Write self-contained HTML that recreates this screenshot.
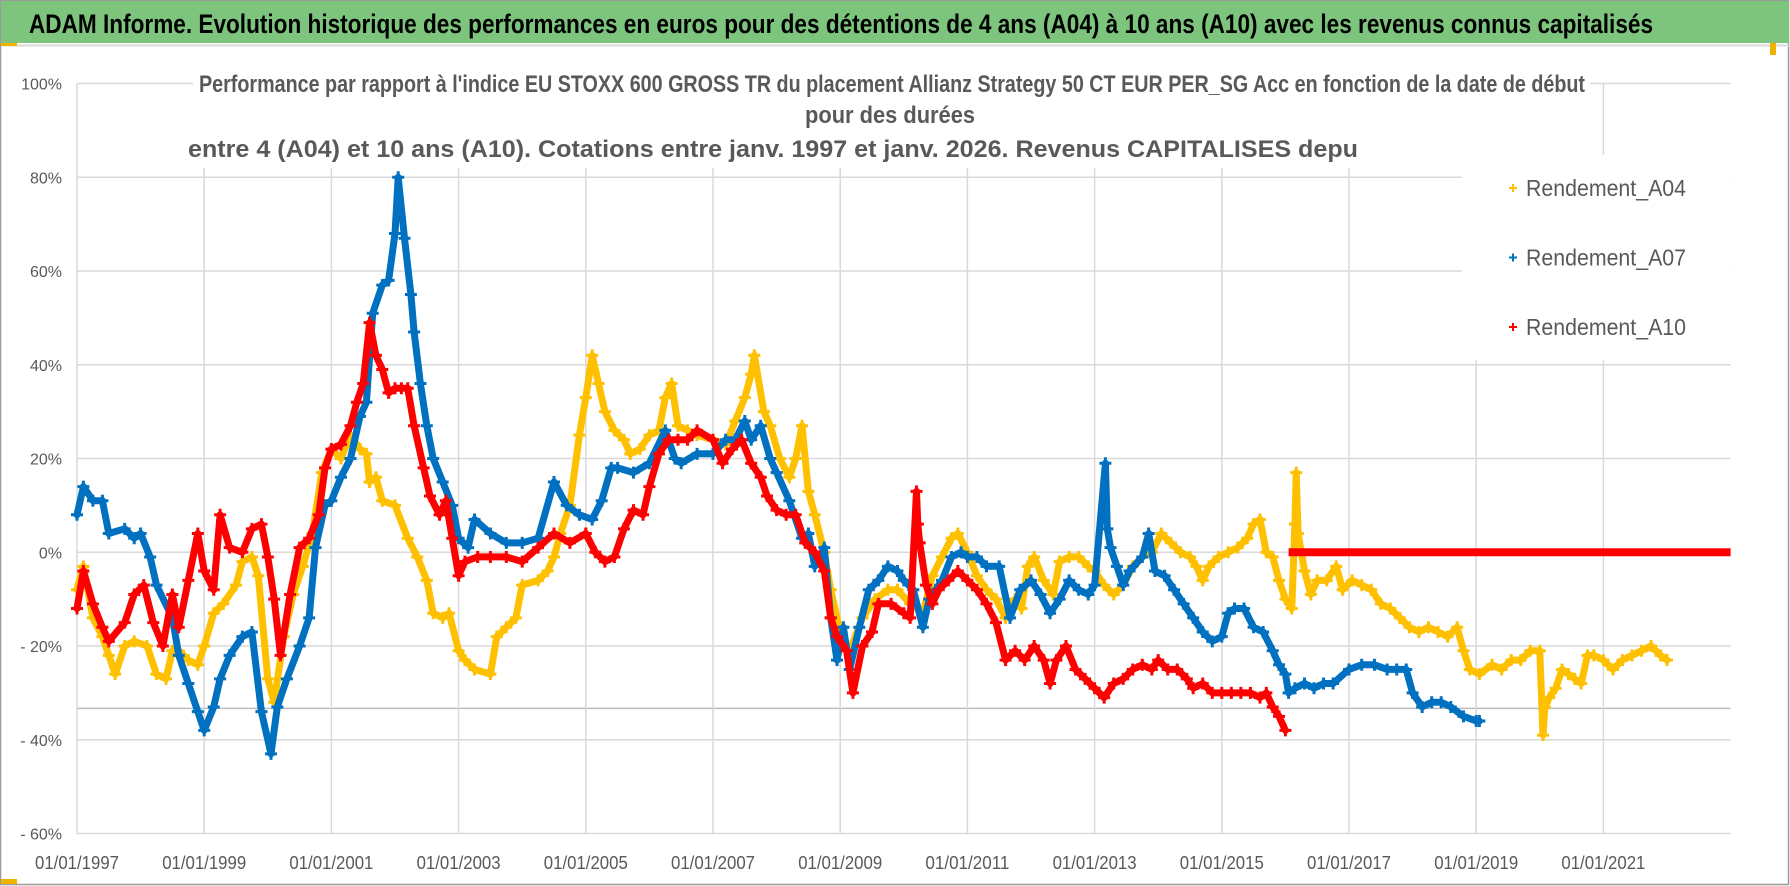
<!DOCTYPE html>
<html><head><meta charset="utf-8">
<style>
html,body{margin:0;padding:0;background:#fff;}
svg{display:block;font-family:"Liberation Sans",sans-serif;}
</style></head>
<body>
<svg id="chart" width="1790" height="886" viewBox="0 0 1790 886" xmlns="http://www.w3.org/2000/svg">
  <rect x="0" y="0" width="1790" height="886" fill="#fff"/>
  <rect x="0.5" y="0.5" width="1788" height="884" fill="none" stroke="#9a9a9a" stroke-width="1.5"/>
  <rect x="1" y="1" width="1788" height="42" fill="#7dc57d"/>
  <line x1="1" y1="45.5" x2="1789" y2="45.5" stroke="#d8d8d8" stroke-width="2"/>
  <rect x="1" y="43" width="16" height="3" fill="#f0b400"/>
  <rect x="1" y="879" width="16" height="5" fill="#f0b400"/>
  <rect x="1770" y="43" width="6" height="12" fill="#f0b400"/>
  <text x="29" y="33" font-size="27" font-weight="bold" fill="#000" textLength="1624" lengthAdjust="spacingAndGlyphs">ADAM Informe. Evolution historique des performances en euros pour des détentions de 4 ans (A04) à 10 ans (A10) avec les revenus connus capitalisés</text>
  <g id="grid"></g>
  <g id="series"></g>
  <rect x="193" y="68" width="1397" height="100" fill="#fff"/>
  <text x="199" y="92" font-size="24" font-weight="bold" fill="#595959" textLength="1386" lengthAdjust="spacingAndGlyphs">Performance par rapport à l'indice EU STOXX 600 GROSS TR  du placement Allianz Strategy 50 CT EUR PER_SG Acc en fonction de la date de début</text>
  <text x="890" y="123" font-size="24" font-weight="bold" fill="#595959" text-anchor="middle" textLength="170" lengthAdjust="spacingAndGlyphs">pour des durées</text>
  <text x="188" y="157" font-size="24" font-weight="bold" fill="#595959" textLength="1170" lengthAdjust="spacingAndGlyphs">entre 4 (A04) et 10 ans (A10).  Cotations entre janv. 1997 et janv. 2026. Revenus CAPITALISES depu</text>
  <rect x="1462" y="155" width="268" height="205" fill="#fff"/>
  <g id="legend"></g>
  <g id="axes"></g>
</svg>
<script>
const yTicks=[100,80,60,40,20,0,-20,-40,-60];
const yTickLabels=["100%","80%","60%","40%","20%","0%","- 20%","- 40%","- 60%"];
const xTickYears=[1997,1999,2001,2003,2005,2007,2009,2011,2013,2015,2017,2019,2021];
const xTickLabels=["01/01/1997","01/01/1999","01/01/2001","01/01/2003","01/01/2005","01/01/2007","01/01/2009","01/01/2011","01/01/2013","01/01/2015","01/01/2017","01/01/2019","01/01/2021"];
const refLineValue=-33.3;

const a04Years=[1997.0,1997.1,1997.25,1997.4,1997.5,1997.6,1997.75,1997.9,1998.1,1998.25,1998.4,1998.5,1998.6,1998.75,1998.9,1999.0,1999.15,1999.3,1999.5,1999.6,1999.75,1999.85,2000.0,2000.1,2000.25,2000.4,2000.55,2000.7,2000.85,2001.0,2001.15,2001.3,2001.45,2001.55,2001.6,2001.7,2001.8,2002.0,2002.2,2002.35,2002.5,2002.6,2002.75,2002.85,2003.0,2003.1,2003.25,2003.5,2003.6,2003.75,2003.9,2004.0,2004.25,2004.4,2004.5,2004.6,2004.75,2004.9,2005.0,2005.1,2005.2,2005.3,2005.45,2005.6,2005.7,2005.85,2006.0,2006.15,2006.25,2006.35,2006.45,2006.6,2006.75,2007.0,2007.2,2007.35,2007.5,2007.6,2007.65,2007.8,2007.9,2008.05,2008.2,2008.3,2008.4,2008.5,2008.6,2008.75,2008.85,2009.0,2009.15,2009.35,2009.55,2009.75,2009.9,2010.1,2010.3,2010.45,2010.6,2010.75,2010.85,2011.0,2011.15,2011.3,2011.45,2011.6,2011.75,2011.85,2011.95,2012.05,2012.2,2012.35,2012.45,2012.6,2012.75,2012.9,2013.0,2013.15,2013.3,2013.45,2013.6,2013.75,2013.9,2014.05,2014.2,2014.35,2014.5,2014.6,2014.7,2014.8,2014.95,2015.1,2015.25,2015.4,2015.5,2015.6,2015.7,2015.8,2015.9,2016.0,2016.1,2016.15,2016.17,2016.2,2016.3,2016.4,2016.5,2016.65,2016.8,2016.9,2017.05,2017.2,2017.35,2017.5,2017.65,2017.8,2017.95,2018.1,2018.25,2018.4,2018.55,2018.7,2018.8,2018.9,2019.05,2019.25,2019.4,2019.55,2019.7,2019.85,2020.0,2020.05,2020.08,2020.15,2020.25,2020.35,2020.45,2020.55,2020.65,2020.75,2020.85,2021.0,2021.15,2021.3,2021.45,2021.6,2021.75,2021.9,2022.0];
const a04Values=[-8,-3,-14,-18,-22,-26,-20,-19,-20,-26,-27,-21,-21,-23,-24,-20,-13,-11,-7,-2,-1,-5,-27,-32,-18,-9,-3,4,17,22,20,25,22,21,15,16,11,10,3,-1,-6,-13,-14,-13,-21,-23,-25,-26,-18,-16,-14,-7,-6,-4,-1,4,10,25,33,42,36,30,26,24,21,22,25,26,33,36,27,26,25,24,23,28,33,38,42,30,27,20,16,20,27,13,8,0,-8,-17,-21,-14,-10,-8,-8,-11,-13,-5,-1,3,4,0,-5,-8,-10,-14,-10,-12,-3,-1,-6,-9,-2,-1,-1,-3,-4,-7,-9,-7,-3,-1,0,4,2,0,-1,-3,-6,-3,-1,0,1,3,6,7,0,-1,-6,-10,-12,6,17,4,-4,-9,-6,-6,-3,-8,-6,-7,-8,-11,-12,-14,-16,-17,-16,-17,-18,-16,-21,-25,-26,-24,-25,-23,-23,-21,-21,-39,-33,-31,-29,-25,-26,-27,-28,-22,-22,-23,-25,-23,-22,-21,-20,-22,-23];

const a07Years=[1997.0,1997.1,1997.25,1997.4,1997.5,1997.75,1997.9,1998.0,1998.15,1998.25,1998.5,1998.6,1998.75,1998.9,1999.0,1999.15,1999.25,1999.4,1999.6,1999.75,1999.9,2000.05,2000.15,2000.3,2000.5,2000.65,2000.75,2000.9,2001.0,2001.15,2001.3,2001.45,2001.55,2001.65,2001.8,2001.9,2002.0,2002.05,2002.15,2002.25,2002.3,2002.4,2002.5,2002.6,2002.75,2002.9,2003.0,2003.15,2003.25,2003.5,2003.75,2004.0,2004.25,2004.5,2004.7,2004.9,2005.1,2005.25,2005.4,2005.5,2005.75,2006.0,2006.25,2006.4,2006.5,2006.75,2007.0,2007.2,2007.35,2007.5,2007.6,2007.75,2007.9,2008.0,2008.2,2008.4,2008.5,2008.6,2008.75,2008.85,2008.95,2009.05,2009.15,2009.3,2009.45,2009.6,2009.75,2009.9,2010.0,2010.15,2010.3,2010.4,2010.5,2010.6,2010.75,2010.9,2011.0,2011.15,2011.3,2011.5,2011.67,2011.83,2012.0,2012.15,2012.3,2012.45,2012.6,2012.75,2012.9,2013.0,2013.17,2013.2,2013.25,2013.35,2013.45,2013.55,2013.75,2013.85,2013.95,2014.1,2014.25,2014.4,2014.55,2014.7,2014.85,2015.0,2015.1,2015.2,2015.35,2015.5,2015.65,2015.8,2015.9,2016.0,2016.05,2016.15,2016.3,2016.45,2016.6,2016.75,2017.0,2017.2,2017.4,2017.6,2017.75,2017.9,2018.0,2018.15,2018.3,2018.45,2018.6,2018.8,2019.0,2019.05];
const a07Values=[8,14,11,11,4,5,3,4,-1,-7,-14,-22,-28,-34,-38,-33,-27,-22,-18,-17,-34,-43,-33,-27,-20,-14,1,10,11,16,20,29,32,51,57,58,68,80,67,55,47,36,27,20,15,10,3,1,7,4,2,2,3,15,10,8,7,11,18,18,17,19,26,20,19,21,21,24,24,28,24,27,20,17,11,3,4,-3,1,-14,-23,-16,-25,-16,-8,-6,-3,-4,-6,-8,-16,-10,-8,-6,-1,0,-1,-1,-3,-3,-14,-8,-6,-9,-13,-10,-6,-8,-9,-7,19,5,1,-3,-7,-4,-1,4,-4,-5,-8,-11,-14,-17,-19,-18,-13,-12,-12,-16,-17,-21,-24,-26,-30,-29,-28,-29,-28,-28,-25,-24,-24,-25,-25,-25,-30,-33,-32,-32,-33,-35,-36,-36];

const a10Years=[1997.0,1997.1,1997.25,1997.4,1997.5,1997.75,1997.9,1998.05,1998.2,1998.35,1998.5,1998.6,1998.75,1998.9,1999.0,1999.15,1999.25,1999.4,1999.6,1999.75,1999.9,2000.0,2000.1,2000.2,2000.35,2000.5,2000.65,2000.8,2000.9,2001.0,2001.15,2001.3,2001.4,2001.5,2001.6,2001.7,2001.8,2001.9,2002.0,2002.1,2002.2,2002.3,2002.45,2002.55,2002.7,2002.8,2002.9,2003.0,2003.1,2003.3,2003.5,2003.75,2004.0,2004.25,2004.5,2004.75,2005.0,2005.15,2005.3,2005.45,2005.6,2005.75,2005.9,2006.0,2006.15,2006.3,2006.45,2006.6,2006.75,2007.0,2007.15,2007.3,2007.45,2007.6,2007.75,2007.85,2008.0,2008.15,2008.3,2008.45,2008.6,2008.75,2008.85,2008.95,2009.1,2009.2,2009.35,2009.5,2009.6,2009.8,2010.0,2010.1,2010.2,2010.22,2010.25,2010.35,2010.45,2010.55,2010.7,2010.85,2011.0,2011.15,2011.3,2011.45,2011.6,2011.75,2011.9,2012.05,2012.2,2012.3,2012.4,2012.55,2012.7,2012.85,2013.0,2013.15,2013.3,2013.45,2013.6,2013.75,2013.9,2014.0,2014.15,2014.3,2014.45,2014.55,2014.7,2014.85,2015.0,2015.15,2015.3,2015.45,2015.6,2015.7,2015.8,2015.9,2016.0];
const a10Values=[-12,-4,-11,-16,-19,-15,-9,-7,-15,-20,-9,-16,-6,4,-4,-8,8,1,0,5,6,-1,-10,-22,-9,1,3,8,18,22,23,27,32,36,49,42,39,34,35,35,35,27,18,12,8,11,3,-5,-2,-1,-1,-1,-2,1,4,2,4,0,-2,-1,5,9,8,14,21,24,24,24,26,24,19,22,24,19,16,12,9,8,8,2,0,-4,-14,-18,-21,-30,-20,-17,-11,-11,-13,-14,13,6,2,-7,-11,-8,-6,-4,-6,-8,-11,-15,-23,-21,-23,-20,-23,-28,-23,-20,-25,-27,-29,-31,-28,-27,-25,-24,-25,-23,-25,-25,-27,-29,-28,-30,-30,-30,-30,-30,-31,-30,-33,-35,-38];
const a10FlatYears=[2016.05,2023.0];
const a10FlatValues=[0,0];

const X0=77, PX_PER_YEAR=63.6, Y0=552.25, PX_PER_PCT=4.6875;
const NS="http://www.w3.org/2000/svg";
function xs(year){return X0+(year-1997)*PX_PER_YEAR;}
function ys(v){return Y0-v*PX_PER_PCT;}
function mk(tag,attrs,parent){const e=document.createElementNS(NS,tag);for(const k in attrs)e.setAttribute(k,attrs[k]);parent.appendChild(e);return e;}

const grid=document.getElementById('grid');
const xRight=xs(2023);
yTicks.forEach((t,i)=>{
  const l=mk('line',{x1:xs(1997),x2:xRight,y1:ys(t),y2:ys(t),stroke:'#d9d9d9','stroke-width':1.5},grid);
  
  
});
const ref=mk('line',{x1:xs(1997),x2:xRight,y1:ys(refLineValue),y2:ys(refLineValue),stroke:'#bdbdbd','stroke-width':1.5},grid);


xTickYears.forEach((yr,i)=>{
  const l=mk('line',{x1:xs(yr),x2:xs(yr),y1:ys(100),y2:ys(-60),stroke:'#d9d9d9','stroke-width':1.5},grid);
  
  
});

const axes=document.getElementById('axes');
yTicks.forEach((t,i)=>{
  const tx=mk('text',{x:62,y:ys(t)+6,'font-size':16,fill:'#595959','text-anchor':'end'},axes);
  tx.textContent=yTickLabels[i];
  
  
});
xTickYears.forEach((yr,i)=>{
  const tx=mk('text',{x:xs(yr),y:869,'font-size':18,fill:'#595959','text-anchor':'middle',textLength:84,lengthAdjust:'spacingAndGlyphs'},axes);
  tx.textContent=xTickLabels[i];
  
  
});

const seriesG=document.getElementById('series');
function drawSeries(years,values,color,name){
  const g=mk('g',{},seriesG);
  
  
  const pts=years.map((y,i)=>xs(y).toFixed(1)+','+ys(values[i]).toFixed(1)).join(' ');
  const pl=mk('polyline',{points:pts,fill:'none',stroke:color,'stroke-width':7,'stroke-linejoin':'round','stroke-linecap':'round'},g);
  
  
  years.forEach((y,i)=>{
    const cx=xs(y), cy=ys(values[i]);
    const p=mk('path',{d:`M${cx-6},${cy}H${cx+6}M${cx},${cy-6}V${cy+6}`,stroke:color,'stroke-width':3,fill:'none'},g);
    
    
  });
}
drawSeries(a04Years,a04Values,'#ffc000','series-a04');
drawSeries(a07Years,a07Values,'#0070c0','series-a07');
drawSeries(a10Years,a10Values,'#ff0000','series-a10');
(function(){
  const l=mk('line',{x1:xs(a10FlatYears[0]),x2:xs(a10FlatYears[1]),y1:ys(a10FlatValues[0]),y2:ys(a10FlatValues[1]),stroke:'#ff0000','stroke-width':8},seriesG);
  
  
})();

const legend=document.getElementById('legend');
const legendNames=["Rendement_A04","Rendement_A07","Rendement_A10"];
const legendColors=['#ffc000','#0070c0','#ff0000'];
legendNames.forEach((n,i)=>{
  const cy=188+i*69.5;
  const m=mk('path',{d:`M1509,${cy}H1517M1513,${cy-4}V${cy+4}`,stroke:legendColors[i],'stroke-width':2,fill:'none'},legend);
  
  
  const t=mk('text',{x:1526,y:cy+8,'font-size':23,fill:'#595959',textLength:160,lengthAdjust:'spacingAndGlyphs'},legend);
  t.textContent=n;
  
  
});
</script>
</body></html>
